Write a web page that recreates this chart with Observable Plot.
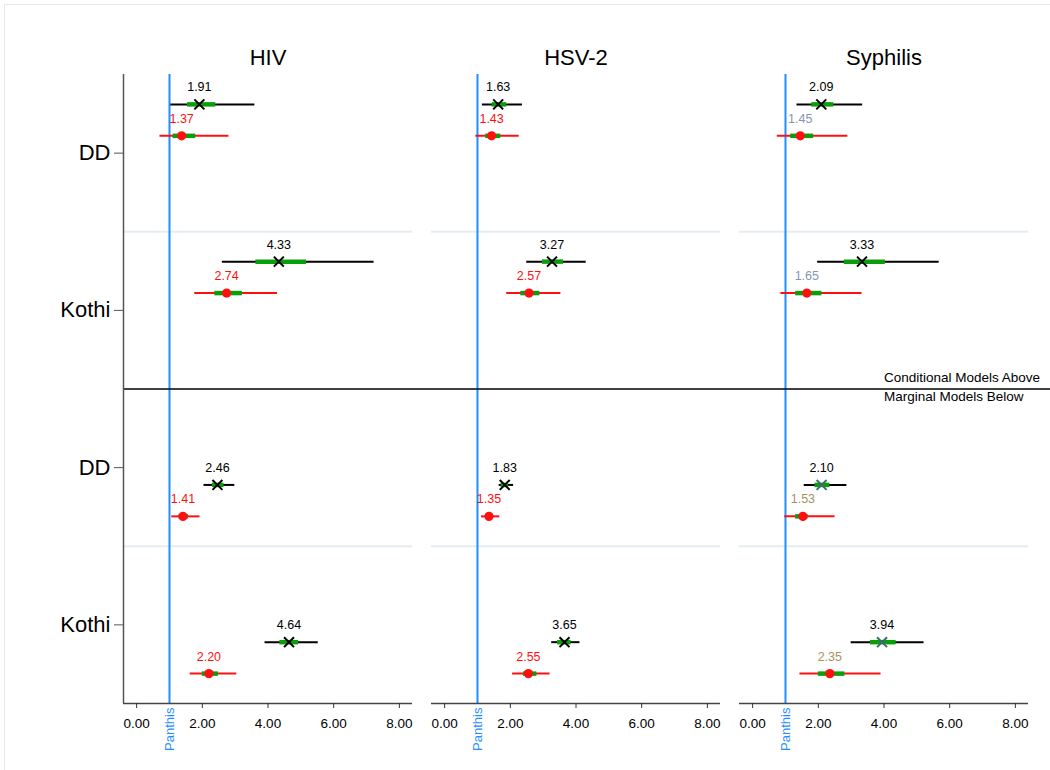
<!DOCTYPE html>
<html>
<head>
<meta charset="utf-8">
<script src="https://cdn.jsdelivr.net/npm/d3@7"></script>
<script src="https://cdn.jsdelivr.net/npm/@observablehq/plot@0.6"></script>
<style>
  html, body { margin: 0; padding: 0; background: #fff; overflow: hidden; }
  #border { position: absolute; left: 4px; top: 4px; width: 1100px; height: 800px; border: 1px solid #e3eaee; }
  #chart { position: absolute; left: 0; top: 0; }
</style>
</head>
<body>
<div id="border"></div>
<div id="chart"></div>
<script>
// Panels, row groups and model blocks
const diseases = ["HIV", "HSV-2", "Syphilis"];
const groups = ["DD", "Kothi"];
const models = ["Conditional", "Marginal"];
const yTickLabels = ["DD", "Kothi", "DD", "Kothi"];
const xTicks = [0, 2, 4, 6, 8];
const refValue = 1;          // reference category (Panthis)
const refLabel = "Panthis";
const noteAbove = "Conditional Models Above";
const noteBelow = "Marginal Models Below";

// Each inner array is one disease; order within: Conditional DD, Conditional Kothi, Marginal DD, Marginal Kothi
// Series A (cross markers)
const estA  = [[1.91, 4.33, 2.46, 4.64], [1.63, 3.27, 1.83, 3.65], [2.09, 3.33, 2.10, 3.94]];
const ciLoA = [[1.04, 2.61, 2.05, 3.91], [1.15, 2.50, 1.66, 3.26], [1.35, 1.98, 1.57, 3.00]];
const ciHiA = [[3.60, 7.23, 2.99, 5.53], [2.37, 4.31, 2.10, 4.12], [3.35, 5.68, 2.87, 5.22]];
const inLoA = [[1.55, 3.63, 2.31, 4.36], [1.45, 2.98, 1.72, 3.44], [1.80, 2.79, 1.90, 3.59]];
const inHiA = [[2.41, 5.17, 2.66, 4.93], [1.89, 3.62, 1.95, 3.85], [2.47, 4.04, 2.35, 4.37]];
// Series B (dot markers)
const estB  = [[1.37, 2.74, 1.41, 2.20], [1.43, 2.57, 1.35, 2.55], [1.45, 1.65, 1.53, 2.35]];
const ciLoB = [[0.71, 1.77, 1.07, 1.63], [0.95, 1.89, 1.12, 2.07], [0.75, 0.86, 0.98, 1.44]];
const ciHiB = [[2.81, 4.29, 1.93, 3.05], [2.27, 3.54, 1.68, 3.21], [2.90, 3.33, 2.51, 3.91]];
const inLoB = [[1.11, 2.38, 1.29, 2.00], [1.25, 2.32, 1.28, 2.40], [1.16, 1.31, 1.31, 2.00]];
const inHiB = [[1.80, 3.22, 1.58, 2.49], [1.71, 2.90, 1.43, 2.81], [1.86, 2.11, 1.69, 2.81]];

// Row offsets within each band: conditional rows sit above the band centre, marginal rows below
const offsets = {
  Conditional: { A: 0.19, B: 0.39 },
  Marginal:    { A: 0.61, B: 0.81 }
};

const rows = [];
diseases.forEach((d, i) => {
  models.forEach((m, mi) => {
    groups.forEach((g, gi) => {
      const k = mi * 2 + gi;
      rows.push({ disease: d, model: m, group: g, series: "A", pos: k + offsets[m].A,
        est: estA[i][k], lo: ciLoA[i][k], hi: ciHiA[i][k], qlo: inLoA[i][k], qhi: inHiA[i][k] });
      rows.push({ disease: d, model: m, group: g, series: "B", pos: k + offsets[m].B,
        est: estB[i][k], lo: ciLoB[i][k], hi: ciHiB[i][k], qlo: inLoB[i][k], qhi: inHiB[i][k] });
    });
  });
});

const BLUE = "#1f8fff";
const GREEN = "#0b9e0b";
const RED = "#ff1010";

function lineColor(d) { return d.series === "A" ? "#000" : RED; }
function markerColor(d) {
  if (d.series === "A") return (d.disease === "Syphilis" && d.model === "Marginal") ? "#3d6d6d" : "#000";
  return RED;
}
function labelColor(d) {
  if (d.series === "A") return "#000";
  if (d.disease === "Syphilis") return d.model === "Conditional" ? "#8696b2" : "#a8925c";
  return RED;
}

const fmt = d3.format(".2f");
const lastPanel = [{ disease: diseases[diseases.length - 1] }];
const firstPanel = [{ disease: diseases[0] }];

const chart = Plot.plot({
  width: 1050,
  height: 770,
  marginLeft: 123,
  marginRight: 22,
  marginTop: 74,
  marginBottom: 67,
  style: { fontFamily: "'Liberation Sans', Arial, Helvetica, sans-serif", background: "transparent", color: "#000" },
  fx: { domain: diseases, paddingInner: 19 / 308, paddingOuter: 0, round: false, label: null },
  x: { domain: [-0.4, 8.4] },
  y: { domain: [0, 4], reverse: true },
  color: { type: "identity" },
  marks: [
    // light band separators
    Plot.ruleY([1, 3], { stroke: "#e5ecf0", strokeWidth: 2 }),
    // reference category line
    Plot.ruleX([refValue], { stroke: BLUE, strokeWidth: 2 }),
    Plot.text([refLabel], { x: refValue, frameAnchor: "bottom", text: d => d, rotate: -90,
      textAnchor: "end", lineAnchor: "middle", dy: 4, fill: BLUE, fontSize: 13 }),
    // divider between conditional and marginal blocks, running across all panels to the edge
    Plot.ruleY(firstPanel, { fx: "disease", y: 2, x1: -0.4, x2: 28, stroke: "#000", strokeWidth: 1.5 }),
    Plot.text(lastPanel, { fx: "disease", x: 4, y: 2, dy: -11, text: () => noteAbove, textAnchor: "start",
      fontSize: 13.5, fill: "#000" }),
    Plot.text(lastPanel, { fx: "disease", x: 4, y: 2, dy: 8, text: () => noteBelow, textAnchor: "start",
      fontSize: 13.5, fill: "#000" }),
    // frame lines
    Plot.ruleY([4], { stroke: "#444", strokeWidth: 1.4 }),
    Plot.ruleX(firstPanel, { fx: "disease", x: -0.4, stroke: "#555", strokeWidth: 1.5 }),
    // intervals
    Plot.ruleY(rows, { fx: "disease", y: "pos", x1: "lo", x2: "hi", stroke: lineColor, strokeWidth: 2 }),
    Plot.ruleY(rows, { fx: "disease", y: "pos", x1: "qlo", x2: "qhi", stroke: GREEN, strokeWidth: 4.5 }),
    // point estimates
    Plot.dot(rows.filter(d => d.series === "A"), { fx: "disease", x: "est", y: "pos", symbol: "times",
      r: 4.6, stroke: markerColor, strokeWidth: 2 }),
    Plot.dot(rows.filter(d => d.series === "B"), { fx: "disease", x: "est", y: "pos", r: 4.6,
      fill: markerColor, stroke: null }),
    Plot.text(rows, { fx: "disease", x: "est", y: "pos", text: d => fmt(d.est), dy: -17,
      lineAnchor: "middle", fill: labelColor, fontSize: 12.5 }),
    // axes
    Plot.axisFx({ anchor: "top", tickSize: 0, tickPadding: 10, fontSize: 22, label: null }),
    Plot.axisY({ ticks: [0.5, 1.5, 2.5, 3.5], tickFormat: d => yTickLabels[Math.floor(d)],
      tickSize: 9, tickPadding: 4, fontSize: 22, label: null, stroke: "#555" }),
    Plot.axisX({ ticks: xTicks, tickFormat: fmt, tickSize: 5, tickPadding: 10, fontSize: 13.5,
      label: null, stroke: "#333" })
  ]
});

document.getElementById("chart").appendChild(chart);
</script>
</body>
</html>
